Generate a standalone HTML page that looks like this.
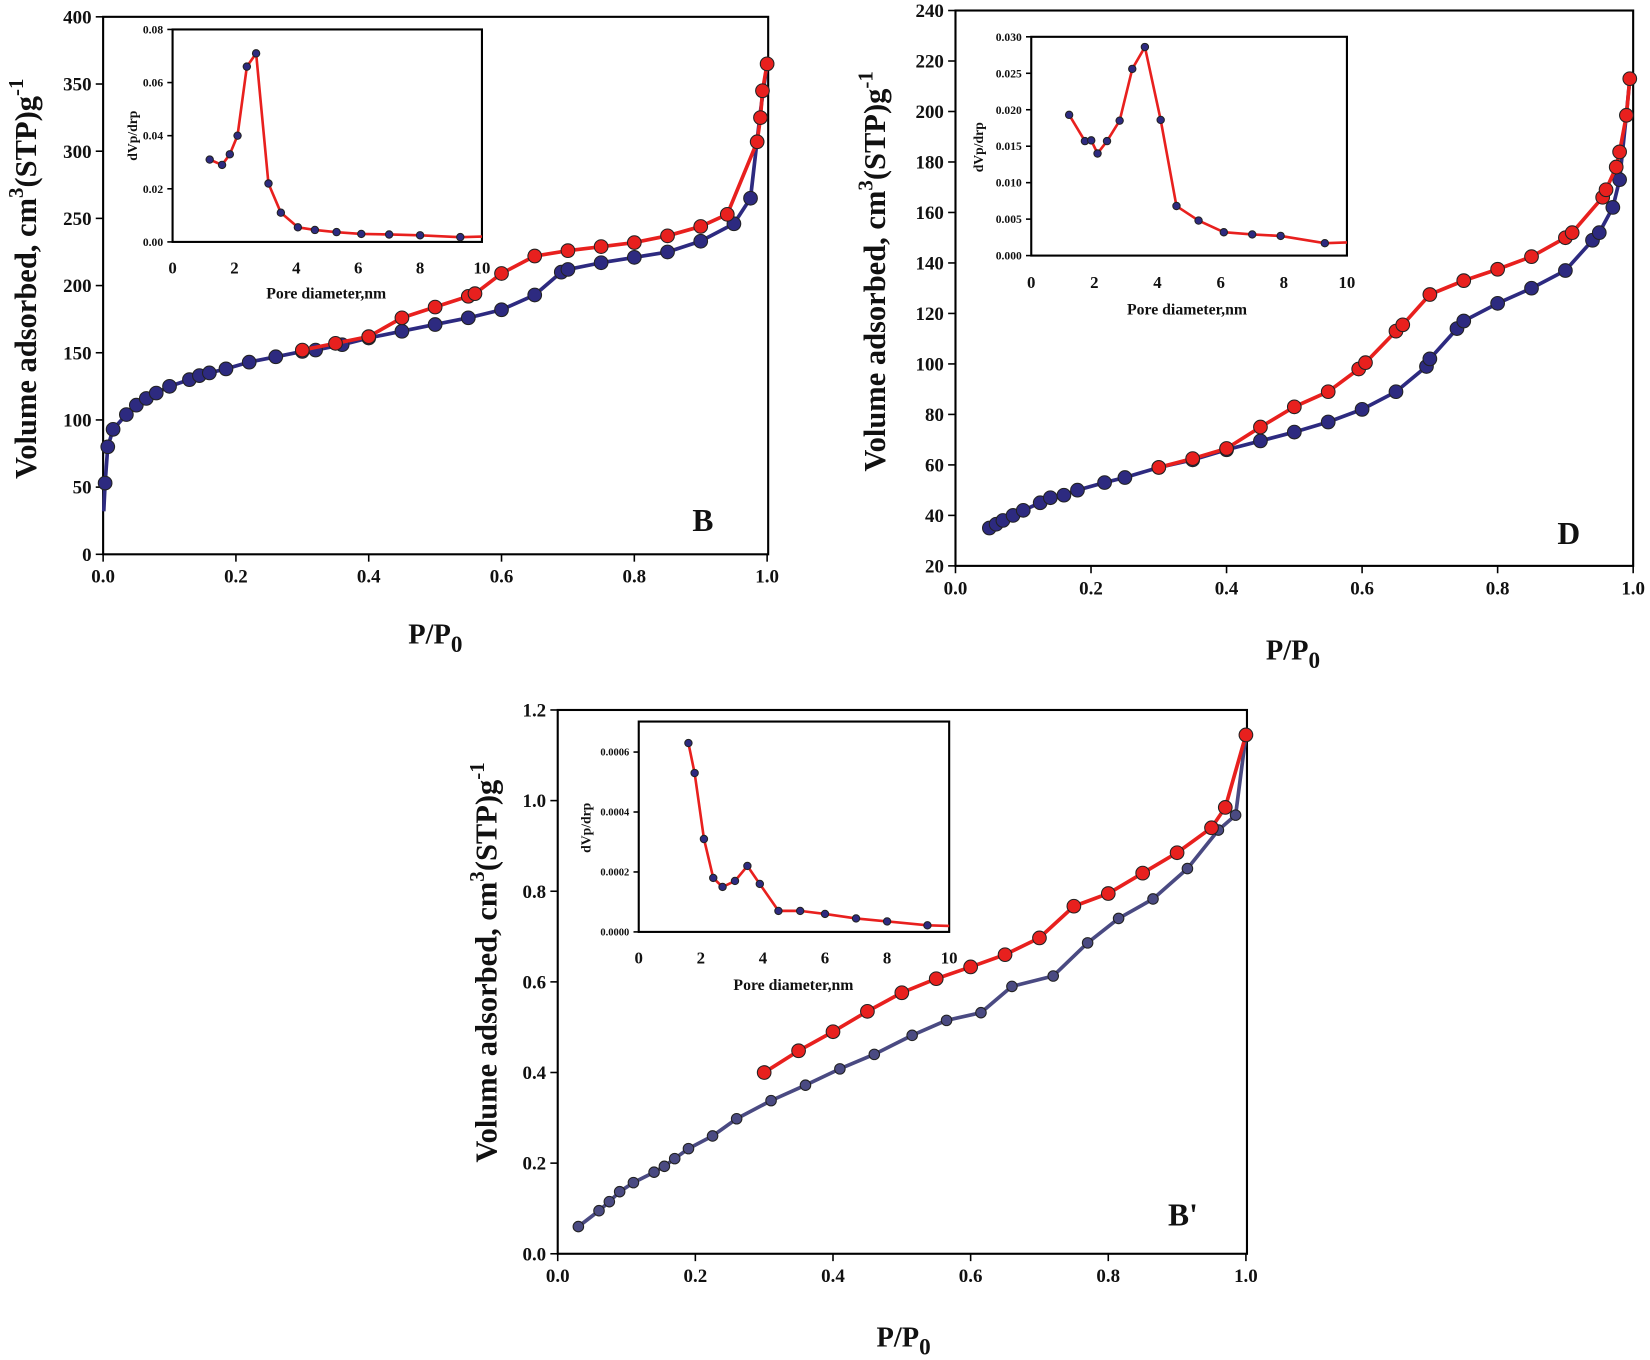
<!DOCTYPE html>
<html><head><meta charset="utf-8"><style>
html,body{margin:0;padding:0;background:#fff}
svg{display:block}
text{font-family:"Liberation Serif",serif;font-weight:bold;fill:#111}
</style></head><body>
<svg id="s" width="1650" height="1360" viewBox="0 0 1568 1293" preserveAspectRatio="none" xmlns="http://www.w3.org/2000/svg">
<g id="g"></g>
<text transform="translate(34,265) rotate(-90)" font-size="29" text-anchor="middle">Volume adsorbed, cm<tspan font-size="20" dy="-12">3</tspan><tspan dy="12">(STP)g</tspan><tspan font-size="20" dy="-12">-1</tspan></text>
<text x="388" y="612" font-size="27">P/P<tspan font-size="22" dy="8">0</tspan></text>
<text x="658" y="505" font-size="30">B</text>
<text transform="translate(130,129) rotate(-90)" font-size="13" text-anchor="middle">dVp/drp</text>
<text x="310" y="284" font-size="15" text-anchor="middle">Pore diameter,nm</text>
<text transform="translate(841,258) rotate(-90)" font-size="29" text-anchor="middle">Volume adsorbed, cm<tspan font-size="20" dy="-12">3</tspan><tspan dy="12">(STP)g</tspan><tspan font-size="20" dy="-12">-1</tspan></text>
<text x="1203" y="627" font-size="27">P/P<tspan font-size="22" dy="8">0</tspan></text>
<text x="1480" y="517" font-size="30">D</text>
<text transform="translate(934,140) rotate(-90)" font-size="13" text-anchor="middle">dVp/drp</text>
<text x="1128" y="299" font-size="15" text-anchor="middle">Pore diameter,nm</text>
<text transform="translate(472,915) rotate(-90)" font-size="29" text-anchor="middle">Volume adsorbed, cm<tspan font-size="20" dy="-12">3</tspan><tspan dy="12">(STP)g</tspan><tspan font-size="20" dy="-12">-1</tspan></text>
<text x="833" y="1280" font-size="27">P/P<tspan font-size="22" dy="8">0</tspan></text>
<text x="1110" y="1165" font-size="30">B'</text>
<text transform="translate(561,787) rotate(-90)" font-size="13" text-anchor="middle">dVp/drp</text>
<text x="754" y="941" font-size="15" text-anchor="middle">Pore diameter,nm</text>
</svg>
<script>
var NS="http://www.w3.org/2000/svg",G=document.getElementById('g');
function el(t,a,txt){var e=document.createElementNS(NS,t);for(var k in a)e.setAttribute(k,a[k]);if(txt!=null)e.textContent=txt;G.appendChild(e);return e;}
function axes(o){
 el('rect',{x:o.x0,y:o.yT,width:o.x1-o.x0,height:o.y0-o.yT,fill:'none',stroke:'#000','stroke-width':o.sw});
 o.xt.forEach(function(v){var X=o.X(v);el('line',{x1:X,y1:o.y0,x2:X,y2:o.y0+o.tl,stroke:'#000','stroke-width':1.5});
  el('text',{x:X,y:o.y0+o.tl+o.fs+2,'font-size':o.fs,'text-anchor':'middle'},o.xf(v));});
 o.yt.forEach(function(v){var Y=o.Y(v);el('line',{x1:o.x0-o.tl,y1:Y,x2:o.x0,y2:Y,stroke:'#000','stroke-width':1.5});
  el('text',{x:o.x0-o.tl-4,y:Y+o.fs*0.35,'font-size':o.fs,'text-anchor':'end'},o.yf(v));});
}
function series(o,d,col,mc,r,lw){
 var p=d.map(function(q){return o.X(q[0]).toFixed(1)+','+o.Y(q[1]).toFixed(1)}).join(' ');
 el('polyline',{points:p,fill:'none',stroke:col,'stroke-width':lw,'stroke-linejoin':'round'});
 d.forEach(function(q,i){if(q[2])return;el('circle',{cx:o.X(q[0]),cy:o.Y(q[1]),r:r,fill:mc,stroke:'#222','stroke-width':1});});
}
function mk(x0,x1,xa,xb,yT,y0,ya,yb,yTop,xt,yt,xf,yf,fs,tl,sw){
 return {x0:x0,x1:x1,yT:yTop,y0:y0,X:function(v){return x0+(v-xa)/(xb-xa)*(x1-x0)},Y:function(v){return y0-(v-ya)/(yb-ya)*(y0-yT)},xt:xt,yt:yt,xf:xf,yf:yf,fs:fs,tl:tl,sw:sw};
}
var f1=function(v){return v.toFixed(1)},f0=function(v){return ''+v};
var B=mk(98,730,0,1,16,527,0,400,16,[0,.2,.4,.6,.8,1],[0,50,100,150,200,250,300,350,400],f1,f0,18,7,2);
B.X=function(v){return 98+v*631};axes(B);
var D=mk(908,1552,0,1,10,538,20,240,10,[0,.2,.4,.6,.8,1],[20,40,60,80,100,120,140,160,180,200,220,240],f1,f0,18,7,2);
D.X=function(v){return 908+v*644};axes(D);
var P=mk(530,1185,0,1,675,1192,0,1.2,675,[0,.2,.4,.6,.8,1],[0,.2,.4,.6,.8,1,1.2],f1,f1,18,7,2);
P.X=function(v){return 530+v*654};axes(P);
var iB=mk(164,458,0,10,28,230,0,0.08,28,[],[0,.02,.04,.06,.08],f0,function(v){return v.toFixed(2)},11,5,2);
axes(iB);[0,2,4,6,8,10].forEach(function(v){el('text',{x:iB.X(v),y:260,'font-size':16,'text-anchor':'middle'},v)});
var iD=mk(980,1280,0,10,35,243,0,0.03,35,[],[0,.005,.01,.015,.02,.025,.03],f0,function(v){return v.toFixed(3)},11,5,2);
axes(iD);[0,2,4,6,8,10].forEach(function(v){el('text',{x:iD.X(v),y:274,'font-size':16,'text-anchor':'middle'},v)});
var iP=mk(607,902,0,10,658,886,0,0.0008,686,[],[0,.0002,.0004,.0006],f0,function(v){return v.toFixed(4)},10,5,2);
axes(iP);[0,2,4,6,8,10].forEach(function(v){el('text',{x:iP.X(v),y:916,'font-size':16,'text-anchor':'middle'},v)});
var BLUE='#2d2a80',RED='#e8201e',SL='#4a4a82';
series(B,[[0.001,32,1],[0.003,53],[0.007,80],[0.015,93],[0.035,104],[0.05,111],[0.065,116],[0.08,120],[0.1,125],[0.13,130],[0.145,133],[0.16,135],[0.185,138],[0.22,143],[0.26,147],[0.3,151],[0.32,152],[0.36,156],[0.4,161],[0.45,166],[0.5,171],[0.55,176],[0.6,182],[0.65,193],[0.69,210],[0.7,212],[0.75,217],[0.8,221],[0.85,225],[0.9,233],[0.95,246],[0.975,265],[0.99,330,1],[1.0,365,1]],BLUE,BLUE,6.5,3.5);
series(B,[[0.3,152],[0.35,157],[0.4,162],[0.45,176],[0.5,184],[0.55,192],[0.56,194],[0.6,209],[0.65,222],[0.7,226],[0.75,229],[0.8,232],[0.85,237],[0.9,244],[0.94,253],[0.985,307],[0.99,325],[0.993,345],[1.0,365]],RED,RED,6.5,3.5);
series(D,[[0.05,35],[0.06,36.5],[0.07,38],[0.085,40],[0.1,42],[0.125,45],[0.14,47],[0.16,48],[0.18,50],[0.22,53],[0.25,55],[0.3,59],[0.35,62],[0.4,66],[0.45,69.5],[0.5,73],[0.55,77],[0.6,82],[0.65,89],[0.695,99],[0.7,102],[0.74,114],[0.75,117],[0.8,124],[0.85,130],[0.9,137],[0.94,149],[0.95,152],[0.97,162],[0.98,173],[0.99,199,1],[0.995,213,1]],BLUE,BLUE,6.5,3.5);
series(D,[[0.3,59],[0.35,62.5],[0.4,66.5],[0.45,75],[0.5,83],[0.55,89],[0.595,98],[0.605,100.5],[0.65,113],[0.66,115.5],[0.7,127.5],[0.75,133],[0.8,137.5],[0.85,142.5],[0.9,150],[0.91,152],[0.955,166],[0.96,169],[0.975,178],[0.98,184],[0.99,198.5],[0.995,213]],RED,RED,6.5,3.5);
series(P,[[0.03,0.06],[0.06,0.095],[0.075,0.115],[0.09,0.137],[0.11,0.157],[0.14,0.18],[0.155,0.193],[0.17,0.21],[0.19,0.232],[0.225,0.26],[0.26,0.298],[0.31,0.338],[0.36,0.372],[0.41,0.408],[0.46,0.44],[0.515,0.482],[0.565,0.515],[0.615,0.532],[0.66,0.59],[0.72,0.613],[0.77,0.686],[0.815,0.74],[0.865,0.783],[0.915,0.85],[0.96,0.935],[0.985,0.968],[1.0,1.145,1]],SL,SL,5,3.5);
series(P,[[0.3,0.4],[0.35,0.448],[0.4,0.49],[0.45,0.535],[0.5,0.576],[0.55,0.607],[0.6,0.633],[0.65,0.66],[0.7,0.697],[0.75,0.767],[0.8,0.795],[0.85,0.84],[0.9,0.885],[0.95,0.94],[0.97,0.985],[1.0,1.145]],RED,RED,6.5,3.5);
series(iB,[[1.2,0.031],[1.6,0.029],[1.85,0.033],[2.1,0.040],[2.4,0.066],[2.7,0.071],[3.1,0.022],[3.5,0.011],[4.05,0.0055],[4.6,0.0045],[5.3,0.0037],[6.1,0.003],[7,0.0028],[8,0.0025],[9.3,0.0018],[10,0.002,1]],RED,BLUE,3.5,2.5);
series(iD,[[1.2,0.0193],[1.7,0.0157],[1.9,0.0158],[2.1,0.014],[2.4,0.0157],[2.8,0.0185],[3.2,0.0256],[3.6,0.0286],[4.1,0.0186],[4.6,0.0068],[5.3,0.0048],[6.1,0.0032],[7,0.0029],[7.9,0.0027],[9.3,0.0017],[10,0.0018,1]],RED,BLUE,3.5,2.5);
series(iP,[[1.6,0.00063],[1.8,0.00053],[2.1,0.00031],[2.4,0.00018],[2.7,0.00015],[3.1,0.00017],[3.5,0.00022],[3.9,0.00016],[4.5,0.00007],[5.2,0.00007],[6,0.00006],[7,0.000045],[8,0.000035],[9.3,0.000022],[10,0.00002,1]],RED,BLUE,3.5,2.5);
</script>
</body></html>
